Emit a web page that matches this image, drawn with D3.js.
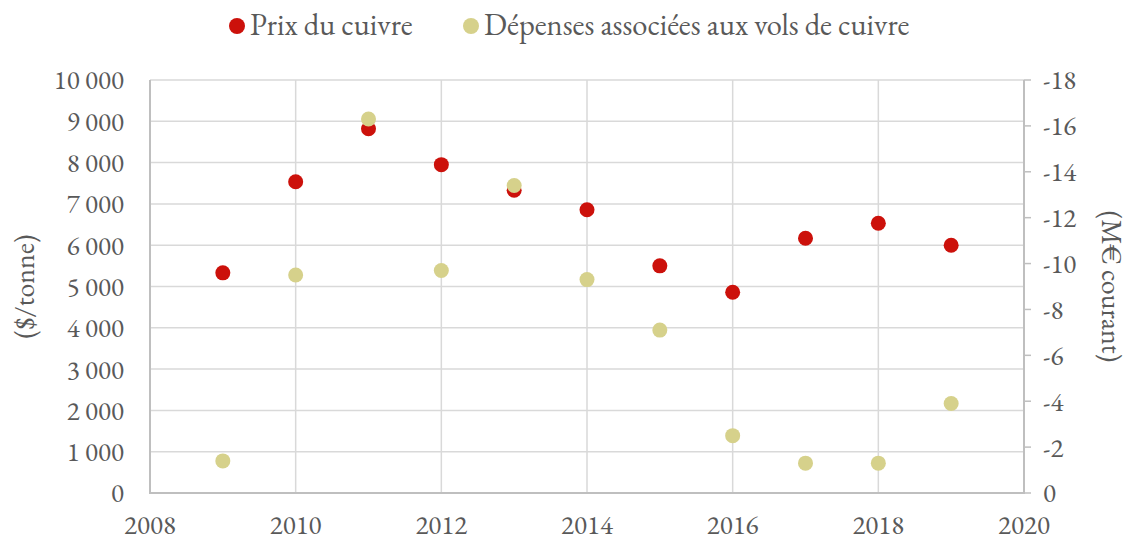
<!DOCTYPE html>
<html>
<head>
<meta charset="utf-8">
<script src="https://cdn.jsdelivr.net/npm/d3@7"></script>
<style>
  body { margin: 0; background: #fff; }
  svg { display: block; font-family: "EB Garamond", Garamond, "Liberation Serif", "DejaVu Serif", serif; }
</style>
</head>
<body>
<svg id="chart" width="1127" height="539"></svg>
<script>
// Données
const years    = [2009, 2010, 2011, 2012, 2013, 2014, 2015, 2016, 2017, 2018, 2019];
const prix     = [5330, 7535, 8820, 7950, 7330, 6860, 5500, 4860, 6170, 6530, 6000];
const depenses = [-1.4, -9.5, -16.3, -9.7, -13.4, -9.3, -7.1, -2.5, -1.3, -1.3, -3.9];

const xTicks     = [2008, 2010, 2012, 2014, 2016, 2018, 2020];
const leftTicks  = [0, 1000, 2000, 3000, 4000, 5000, 6000, 7000, 8000, 9000, 10000];
const rightTicks = [0, -2, -4, -6, -8, -10, -12, -14, -16, -18];

const seriesNames = ['Prix du cuivre', 'Dépenses associées aux vols de cuivre'];
const colors      = ['#CC110B', '#D6D18B'];

const svg = d3.select('#chart');
const pLeft = 150, pRight = 1024, pTop = 80, pBottom = 493;
const textCol = '#595959';
const fs = 27;

const x  = d3.scaleLinear().domain([2008, 2020]).range([pLeft, pRight]);
const yL = d3.scaleLinear().domain([0, 10000]).range([pBottom, pTop]);
const yR = d3.scaleLinear().domain([0, -18]).range([pBottom, pTop]);

const fmt = d3.formatLocale({ decimal: ',', thousands: ' ', grouping: [3], currency: ['', ''] }).format(',d');

// Grille
const grid = svg.append('g');
grid.selectAll('.hg').data(leftTicks.filter(d => d > 0)).join('line')
  .attr('x1', pLeft).attr('x2', pRight)
  .attr('y1', d => yL(d)).attr('y2', d => yL(d))
  .attr('stroke', '#D9D9D9').attr('stroke-width', 1.5);
grid.selectAll('.vg').data(xTicks.slice(1, -1)).join('line')
  .attr('x1', d => x(d)).attr('x2', d => x(d))
  .attr('y1', pTop).attr('y2', pBottom)
  .attr('stroke', '#D9D9D9').attr('stroke-width', 1.5);

// Axes
svg.append('line').attr('x1', pLeft).attr('x2', pLeft).attr('y1', pTop).attr('y2', pBottom)
  .attr('stroke', '#BFBFBF').attr('stroke-width', 2);
svg.append('line').attr('x1', pRight).attr('x2', pRight).attr('y1', pTop).attr('y2', pBottom)
  .attr('stroke', '#BFBFBF').attr('stroke-width', 2);
svg.append('line').attr('x1', pLeft - 1).attr('x2', pRight + 1).attr('y1', pBottom).attr('y2', pBottom)
  .attr('stroke', '#BFBFBF').attr('stroke-width', 2);

svg.append('g').selectAll('line').data(rightTicks).join('line')
  .attr('x1', pRight).attr('x2', pRight + 7)
  .attr('y1', d => yR(d)).attr('y2', d => yR(d))
  .attr('stroke', '#BFBFBF').attr('stroke-width', 1.5);

svg.append('g').selectAll('text').data(leftTicks).join('text')
  .attr('x', 124).attr('y', d => yL(d)).attr('dy', '0.35em')
  .attr('text-anchor', 'end').attr('fill', textCol).attr('font-size', fs)
  .text(d => fmt(d));

svg.append('g').selectAll('text').data(rightTicks).join('text')
  .attr('x', 1043).attr('y', d => yR(d)).attr('dy', '0.35em')
  .attr('text-anchor', 'start').attr('fill', textCol).attr('font-size', fs)
  .text(d => d === 0 ? '0' : String(d));

svg.append('g').selectAll('text').data(xTicks).join('text')
  .attr('x', d => x(d)).attr('y', 534)
  .attr('text-anchor', 'middle').attr('fill', textCol).attr('font-size', fs)
  .text(d => d);

// Titres des axes
svg.append('text')
  .attr('transform', `translate(34,${(pTop + pBottom) / 2}) rotate(-90)`)
  .attr('text-anchor', 'middle').attr('fill', textCol).attr('font-size', 28)
  .text('($/tonne)');
svg.append('text')
  .attr('transform', `translate(1102,${(pTop + pBottom) / 2}) rotate(90)`)
  .attr('text-anchor', 'middle').attr('fill', textCol).attr('font-size', 28)
  .text('(M€ courant)');

// Points
const r = 7.5;
svg.append('g').selectAll('circle').data(years).join('circle')
  .attr('cx', d => x(d)).attr('cy', (d, i) => yL(prix[i])).attr('r', r)
  .attr('fill', colors[0]);
svg.append('g').selectAll('circle').data(years).join('circle')
  .attr('cx', d => x(d)).attr('cy', (d, i) => yR(depenses[i])).attr('r', r)
  .attr('fill', colors[1]);

// Légende
const legendX = [237, 471];
seriesNames.forEach((name, i) => {
  svg.append('circle').attr('cx', legendX[i]).attr('cy', 26).attr('r', 8).attr('fill', colors[i]);
  svg.append('text').attr('x', legendX[i] + 13).attr('y', 35)
    .attr('fill', textCol).attr('font-size', 30.5).text(name);
});
</script>
</body>
</html>
